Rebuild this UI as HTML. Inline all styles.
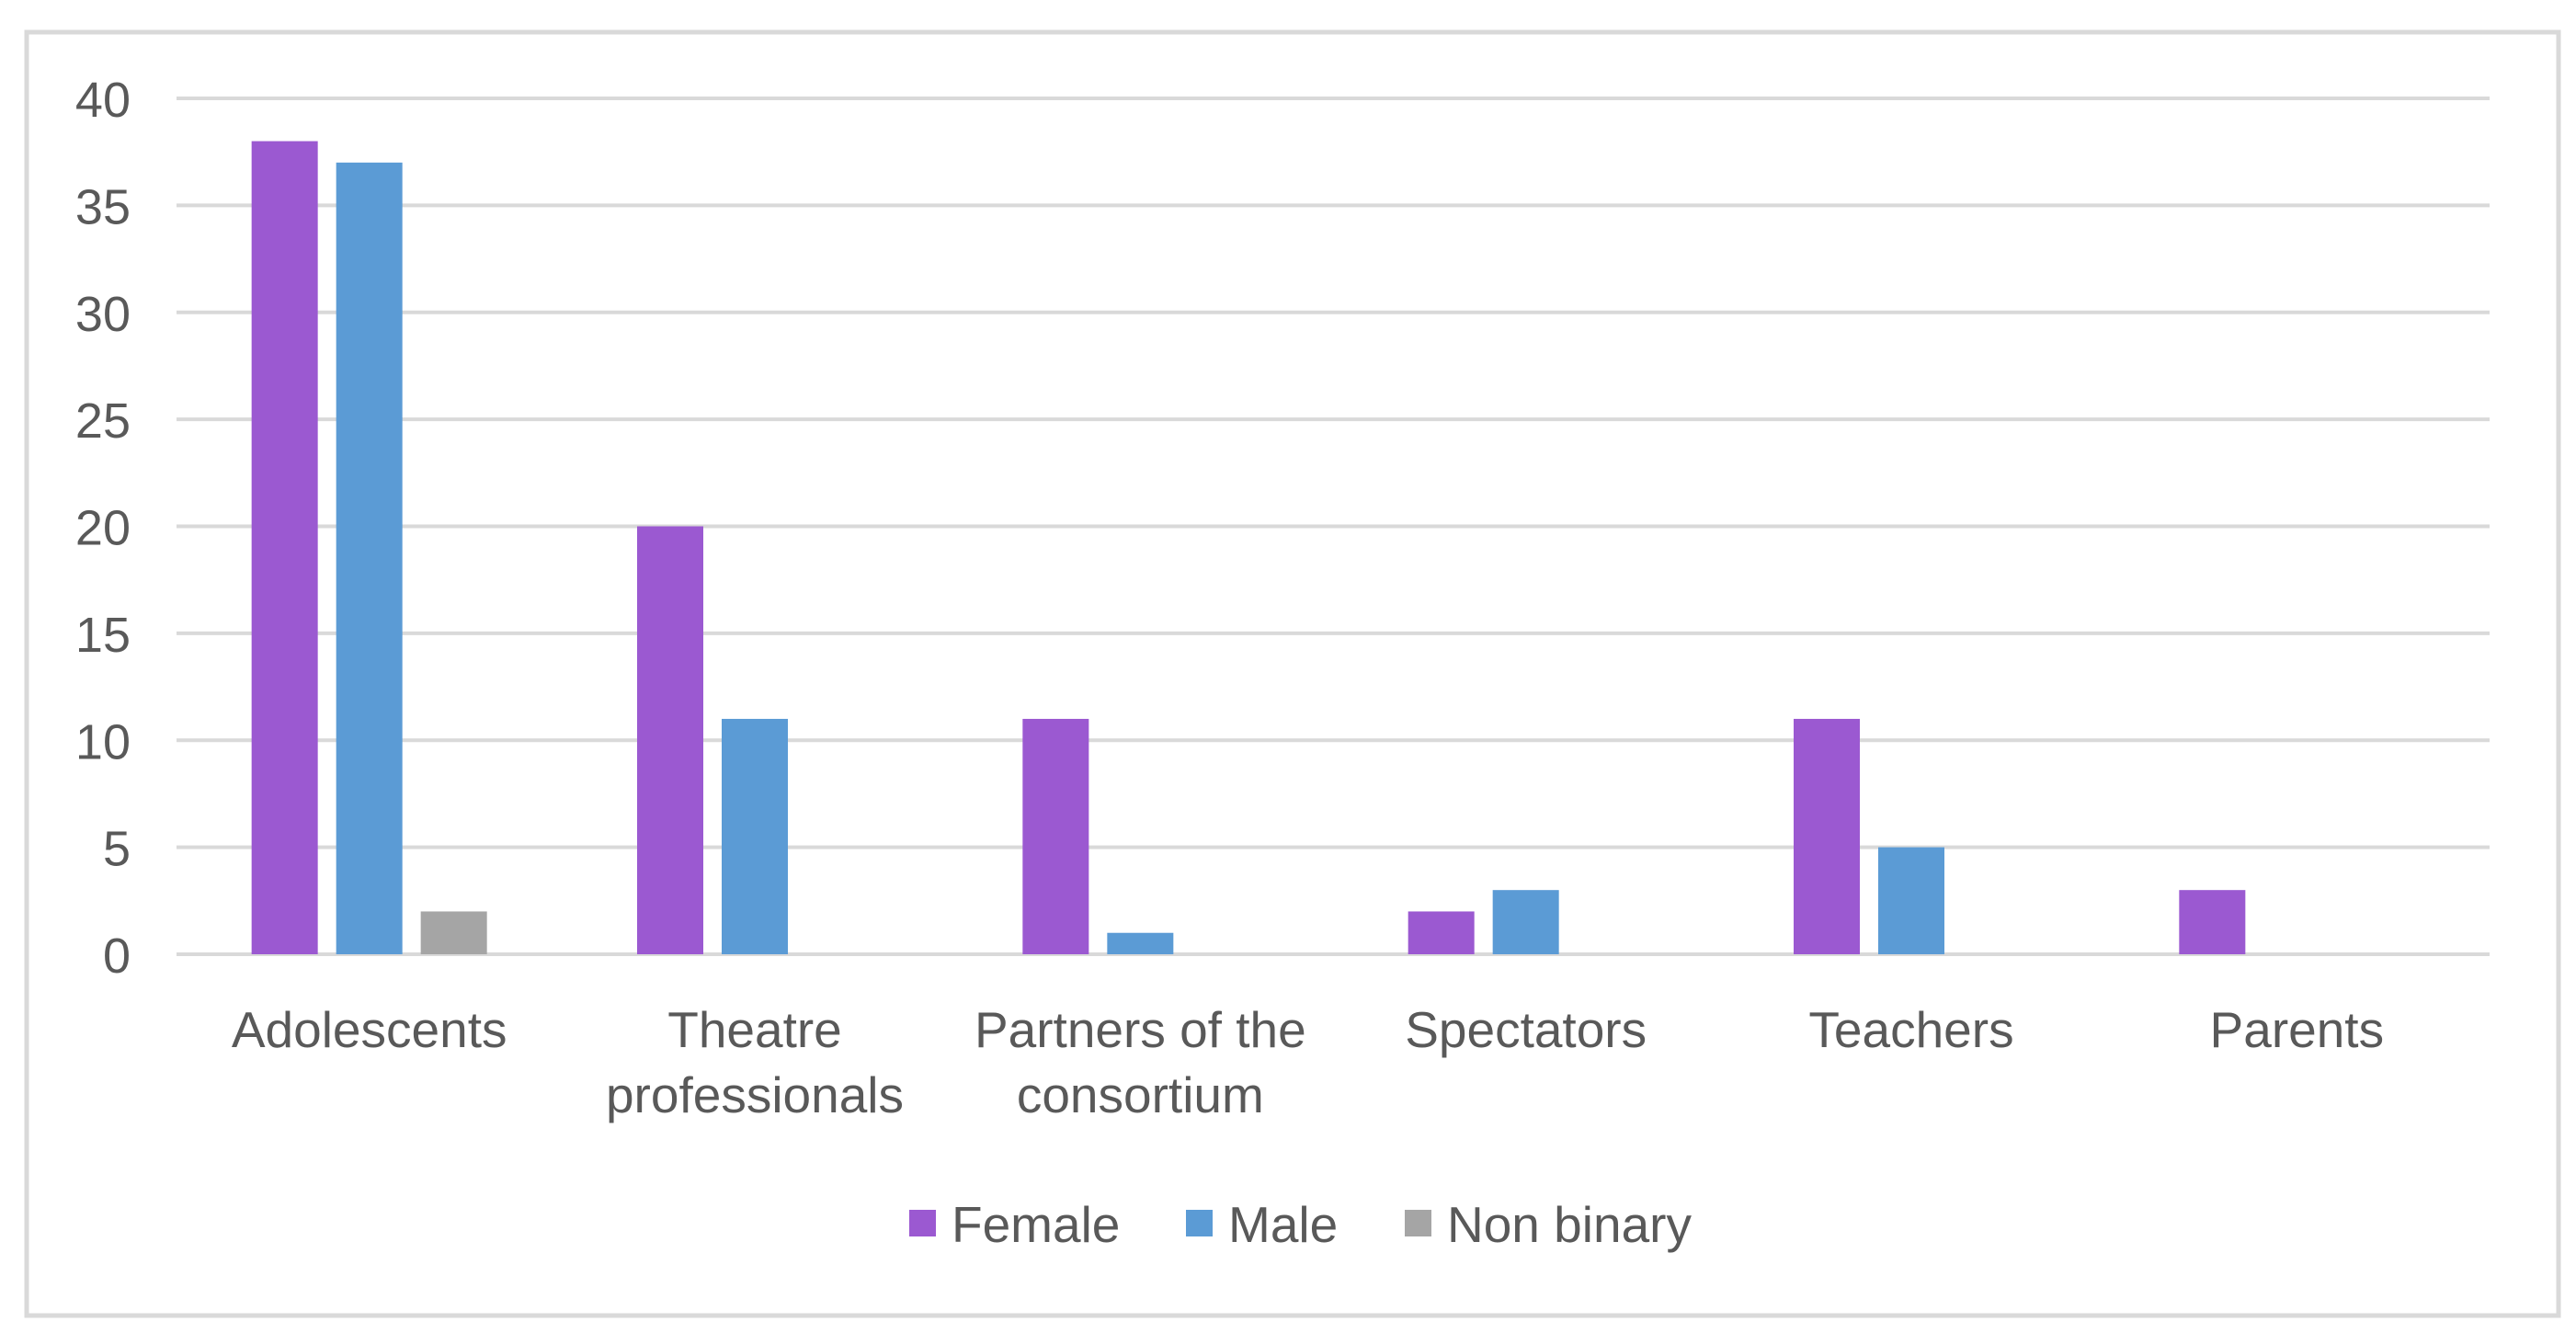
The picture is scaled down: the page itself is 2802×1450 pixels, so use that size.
<!DOCTYPE html>
<html><head><meta charset="utf-8"><style>
html,body{margin:0;padding:0;background:#fff;}
svg{display:block;font-family:"Liberation Sans",sans-serif;}
</style></head><body>
<svg id="chart" width="2802" height="1450" viewBox="0 0 2802 1450">
<rect x="29" y="35" width="2754" height="1396" fill="#fff" stroke="#d9d9d9" stroke-width="5"/>
<g id="grid"></g><g id="bars"></g><g id="labels"></g><g id="legend"></g>
</svg>
<script>
const categories = ["Adolescents", "Theatre professionals", "Partners of the consortium", "Spectators", "Teachers", "Parents"];
const catLines = [["Adolescents"], ["Theatre", "professionals"], ["Partners of the", "consortium"], ["Spectators"], ["Teachers"], ["Parents"]];
const seriesNames = ["Female", "Male", "Non binary"];
const female = [38, 20, 11, 2, 11, 3];
const male = [37, 11, 1, 3, 5, 0];
const nonBinary = [2, 0, 0, 0, 0, 0];
const yTicks = [0, 5, 10, 15, 20, 25, 30, 35, 40];

const series = [female, male, nonBinary];
const colors = ["#9b59d1", "#5b9bd5", "#a5a5a5"];
const NS = "http://www.w3.org/2000/svg";
const plotL = 192, plotR = 2708, y0 = 1038, yTop = 107, yMax = 40;
const y = v => y0 - (v / yMax) * (y0 - yTop);
const band = (plotR - plotL) / categories.length;
const xc = i => plotL + band * (i + 0.5);
const barW = 72, step = 92;
function mk(tag, attrs, parent) { const e = document.createElementNS(NS, tag); for (const k in attrs) e.setAttribute(k, attrs[k]); parent.appendChild(e); return e; }
const grid = document.getElementById('grid'), barsG = document.getElementById('bars'), labG = document.getElementById('labels'), legG = document.getElementById('legend');
yTicks.forEach(t => {
  const l = mk('line', {x1: plotL, x2: plotR, y1: y(t), y2: y(t), stroke: '#d9d9d9', 'stroke-width': 4}, grid);
  
  
  const tx = mk('text', {x: 142, y: y(t) + 20, 'text-anchor': 'end', 'font-size': 54, fill: '#595959'}, grid);
  tx.textContent = t;
  
  
});
categories.forEach((c, i) => {
  series.forEach((s, j) => {
    const v = s[i];
    if (v <= 0) return;
    const cx = xc(i) + (j - 1) * step;
    const r = mk('rect', {x: cx - barW / 2, y: y(v), width: barW, height: y0 - y(v), fill: colors[j]}, barsG);
    
    
  });
  catLines[i].forEach((ln, k) => {
    const t = mk('text', {x: xc(i), y: 1139 + k * 71, 'text-anchor': 'middle', 'font-size': 55, fill: '#595959'}, labG);
    t.textContent = ln;
    
    
  });
});
const legX = [989, 1290, 1528];
seriesNames.forEach((n, j) => {
  const s = mk('rect', {x: legX[j], y: 1316, width: 29, height: 29, fill: colors[j]}, legG);
  
  
  const t = mk('text', {x: legX[j] + 46, y: 1351, 'font-size': 55, fill: '#595959'}, legG);
  t.textContent = n;
  
  
});
</script>
</body></html>
